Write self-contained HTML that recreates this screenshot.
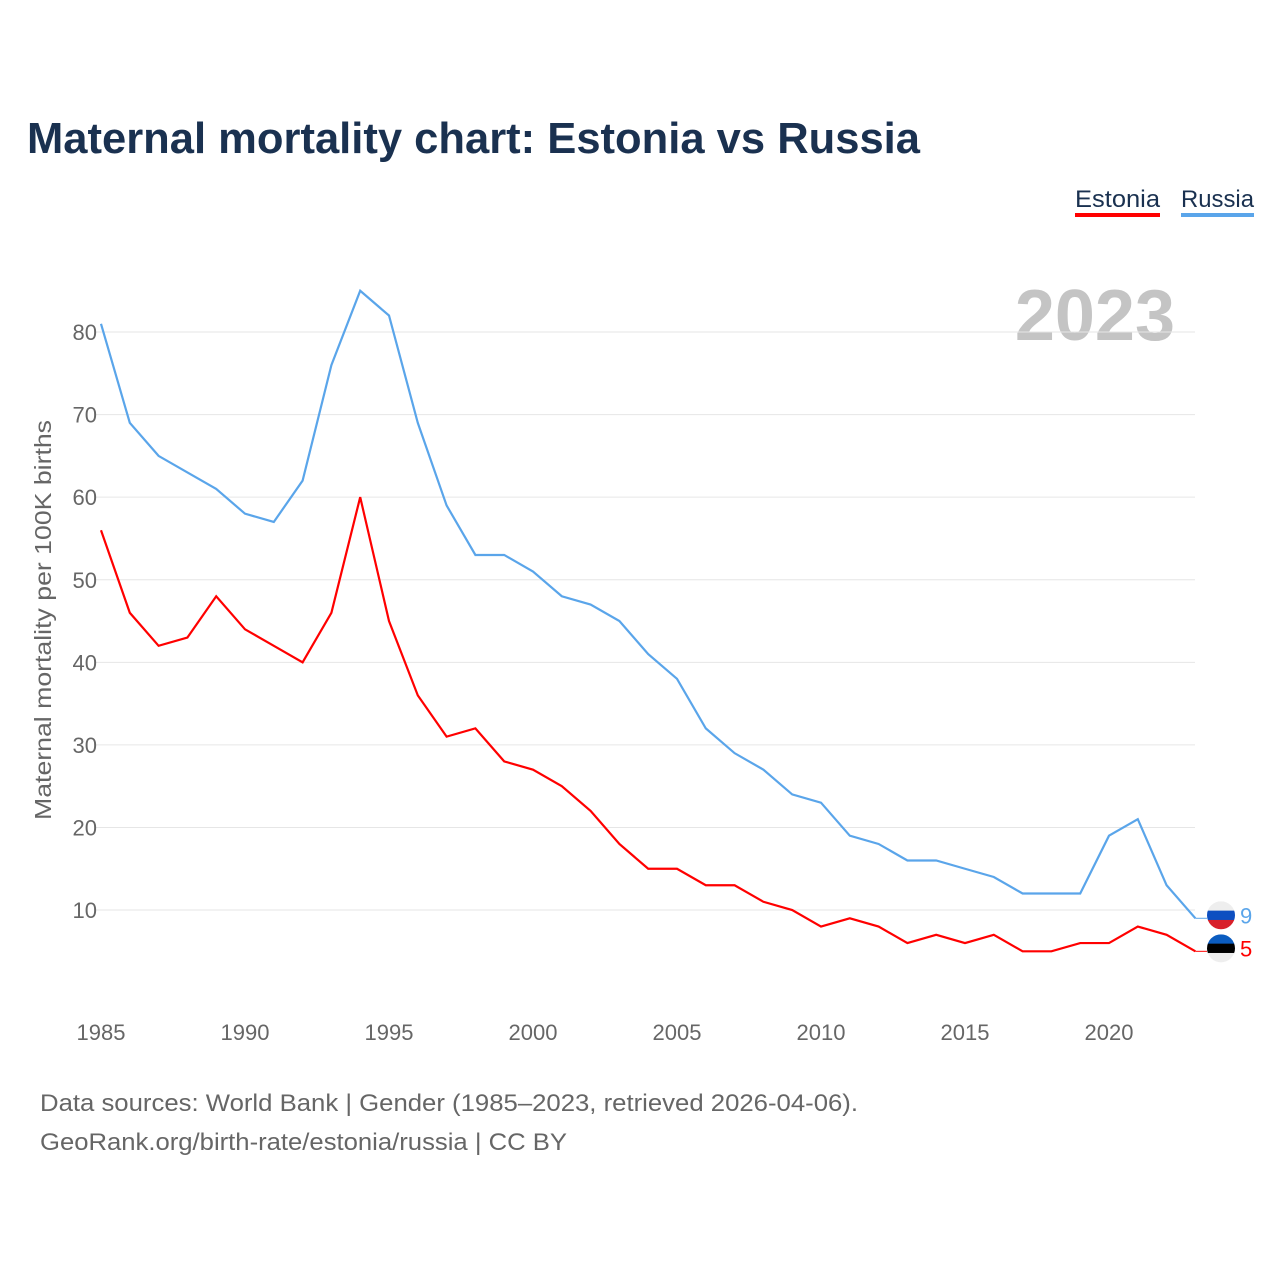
<!DOCTYPE html>
<html><head><meta charset="utf-8"><style>
body{margin:0;background:#fff;font-family:"Liberation Sans",sans-serif;}
</style></head><body>
<svg width="1280" height="1280" xmlns="http://www.w3.org/2000/svg" font-family="Liberation Sans, sans-serif">
<rect width="1280" height="1280" fill="#fff"/>
<text x="27" y="153" font-size="44" font-weight="bold" fill="#1a3150" textLength="893" lengthAdjust="spacingAndGlyphs">Maternal mortality chart: Estonia vs Russia</text>
<g><text x="1075" y="207" font-size="24" fill="#1a3150" textLength="85" lengthAdjust="spacingAndGlyphs">Estonia</text><rect x="1075" y="213" width="85" height="4" fill="#f00"/></g>
<g><text x="1181" y="207" font-size="24" fill="#1a3150" textLength="73" lengthAdjust="spacingAndGlyphs">Russia</text><rect x="1181" y="213" width="73" height="4" fill="#5aa5ea"/></g>
<text x="1175" y="340" font-size="72" font-weight="bold" fill="#c4c4c4" text-anchor="end">2023</text>
<text transform="translate(51,620) rotate(-90)" font-size="23" fill="#666" text-anchor="middle" textLength="400" lengthAdjust="spacingAndGlyphs">Maternal mortality per 100K births</text>
<g id="grid"></g><g id="xt"></g><g id="lines"></g>
<text x="40" y="1111" font-size="24" fill="#666" textLength="818" lengthAdjust="spacingAndGlyphs">Data sources: World Bank | Gender (1985–2023, retrieved 2026-04-06).</text>
<text x="40" y="1150" font-size="24" fill="#666" textLength="527" lengthAdjust="spacingAndGlyphs">GeoRank.org/birth-rate/estonia/russia | CC BY</text>
</svg>
<script>
const years=[];for(let y=1985;y<=2023;y++)years.push(y);
const russia=[81,69,65,63,61,58,57,62,76,85,82,69,59,53,53,51,48,47,45,41,38,32,29,27,24,23,19,18,16,16,15,14,12,12,12,19,21,13,9];
const estonia=[56,46,42,43,48,44,42,40,46,60,45,36,31,32,28,27,25,22,18,15,15,13,13,11,10,8,9,8,6,7,6,7,5,5,6,6,8,7,5];
const yTicks=[10,20,30,40,50,60,70,80];
const xTicks=[1985,1990,1995,2000,2005,2010,2015,2020];
const NS="http://www.w3.org/2000/svg";
const X=y=>101+(y-1985)*28.8, Y=v=>992.6-v*8.257;
function mk(t,a,p){const e=document.createElementNS(NS,t);for(const k in a)e.setAttribute(k,a[k]);p.appendChild(e);return e;}
const g=document.getElementById('grid');
yTicks.forEach(v=>{const l=mk('line',{x1:95,x2:1195,y1:Y(v),y2:Y(v),stroke:'#e6e6e6'},g);


const t=mk('text',{x:97,y:Y(v)+8,'font-size':22,fill:'#666','text-anchor':'end'},g);t.textContent=v;

});
const xt=document.getElementById('xt');
xTicks.forEach(v=>{const t=mk('text',{x:X(v),y:1040,'font-size':22,fill:'#666','text-anchor':'middle'},xt);t.textContent=v;

});
const L=document.getElementById('lines');
function series(d,c,name,flag){
const p=mk('polyline',{points:d.map((v,i)=>X(years[i])+','+Y(v)).join(' '),fill:'none',stroke:c,'stroke-width':2.2},L);


const lx=X(2023),lv=Y(d[d.length-1]);
mk('line',{x1:lx,y1:lv,x2:1207,y2:lv,stroke:c,'stroke-width':1},L);
const fy=lv-3;
const f=mk('g',{},L);


const cp=mk('clipPath',{id:'c'+name},f);
mk('circle',{cx:1221,cy:fy,r:14},cp);
flag.forEach((col,i)=>mk('rect',{x:1207,y:fy-14+i*28/3,width:28,height:28/3+0.5,fill:col,'clip-path':'url(#c'+name+')'},f));
const t=mk('text',{x:1240,y:lv+5,'font-size':22,fill:c},L);t.textContent=d[d.length-1];

}
series(russia,'#5aa5ea','russia',['#eee','#0d4fc1','#d81f2a']);
series(estonia,'#f00','estonia',['#0b5cc0','#000','#eee']);
</script>
</body></html>
